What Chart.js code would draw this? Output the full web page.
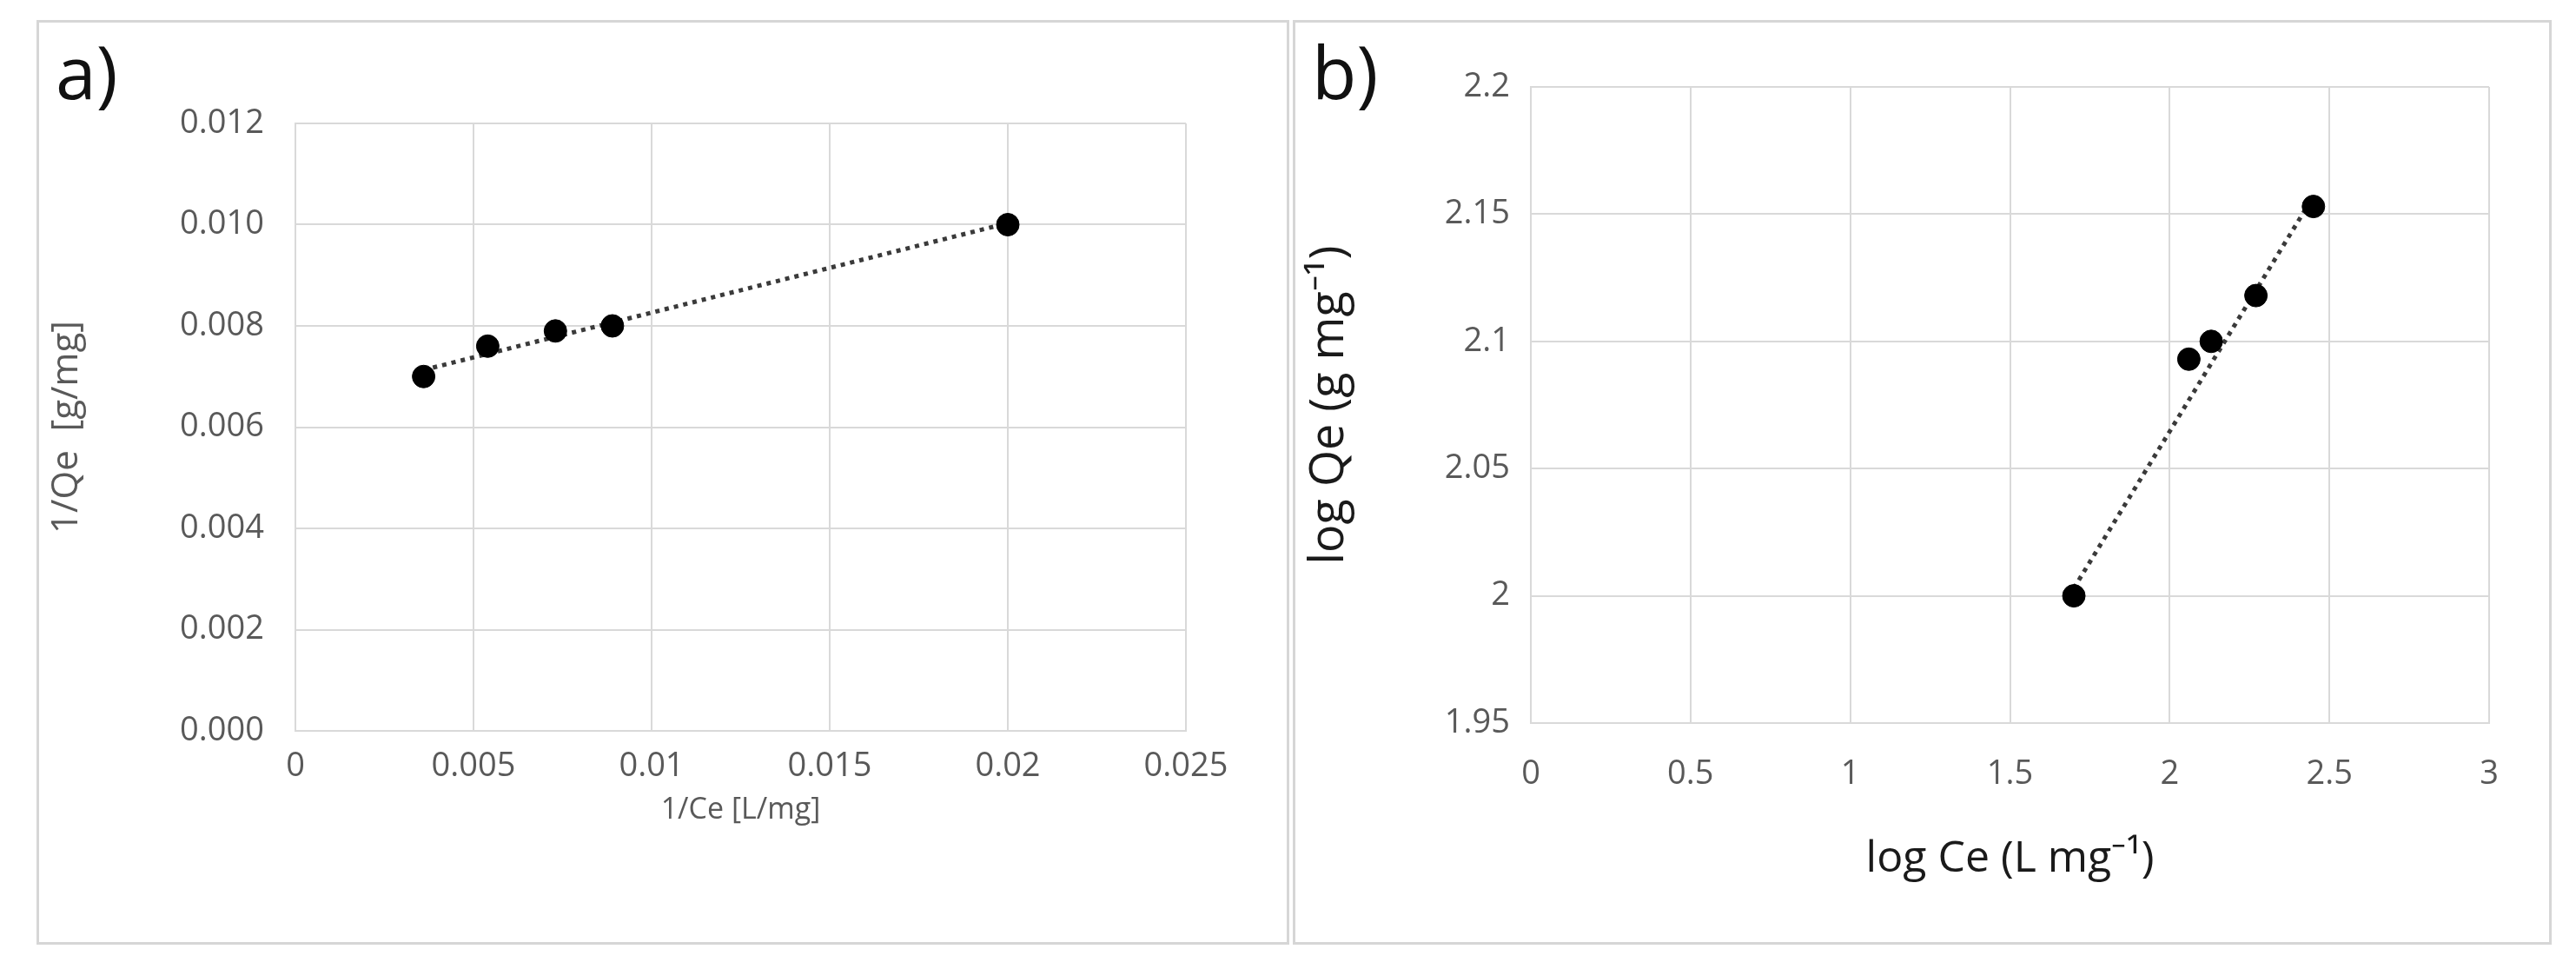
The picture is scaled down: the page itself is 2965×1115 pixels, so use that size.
<!DOCTYPE html>
<html><head><meta charset="utf-8">
<script src="https://cdn.jsdelivr.net/npm/chart.js@4"></script>
<style>
body{margin:0;width:2965px;height:1115px;background:#fff;position:relative;overflow:hidden;font-family:"Open Sans",sans-serif}
.panel{position:absolute;border:3px solid #d6d6d6;box-sizing:border-box}
canvas{position:absolute}
.lab{position:absolute;font-size:84px;color:#111;line-height:1}
</style></head><body>
<div class="panel" style="left:42px;top:23px;width:1442px;height:1064px"></div>
<div class="panel" style="left:1488px;top:23px;width:1449px;height:1064px"></div>
<div style="position:absolute;left:42px;top:23px;width:1442px;height:1064px"><canvas id="ca"></canvas></div>
<div style="position:absolute;left:1488px;top:23px;width:1449px;height:1064px"><canvas id="cb"></canvas></div>
<div class="lab" style="left:64px;top:40px">a)</div>
<div class="lab" style="left:1510px;top:40px">b)</div>
<script>
const aX=[0.0036,0.0054,0.0073,0.0089,0.0200];
const aY=[0.0070,0.0076,0.0079,0.0080,0.0100];
const aTrendX=[0.0036,0.0200];
const aTrendY=[0.00713,0.01003];
const bX=[1.70,2.06,2.13,2.27,2.45];
const bY=[2.000,2.093,2.100,2.118,2.153];
const bTrendX=[1.70,2.45];
const bTrendY=[2.003,2.157];

function pts(xs,ys){return xs.map((x,i)=>({x:x,y:ys[i]}));}
const grid={color:'#d9d9d9',lineWidth:2,drawTicks:false};
function fmt(v){return String(Number(v.toFixed(4)));}
function make(id,o){
  return new Chart(document.getElementById(id),{
    type:'scatter',
    data:{datasets:[
      {data:pts(o.tx,o.ty),showLine:true,borderColor:'#3a3a3a',borderWidth:5,borderDash:[5,6],pointRadius:0,order:2},
      {data:pts(o.x,o.y),backgroundColor:'#000',borderColor:'#000',pointRadius:13,order:1}
    ]},
    options:{responsive:true,maintainAspectRatio:false,animation:false,
      layout:{padding:{top:o.padTop,right:o.padRight,left:0,bottom:0}},
      plugins:{legend:{display:false},tooltip:{enabled:false}},
      scales:{
        x:{type:'linear',min:o.xmin,max:o.xmax,grid:grid,border:{color:'#d9d9d9',width:2},
          ticks:{stepSize:o.xstep,color:o.tickColor,font:{size:o.tickSize,family:'Open Sans'},padding:o.xTickPad,callback:v=>fmt(v)},
          title:{display:true,text:o.xTitle,color:o.titleColor,font:{size:o.xTitleSize,family:'Open Sans'},padding:{top:o.xTitlePad,bottom:o.xTitlePad}},
          afterFit:s=>{s.height=o.xH;}},
        y:{type:'linear',min:o.ymin,max:o.ymax,grid:grid,border:{color:'#d9d9d9',width:2},
          ticks:{stepSize:o.ystep,color:o.tickColor,font:{size:o.tickSize,family:'Open Sans'},padding:o.yTickPad,callback:o.yfmt},
          title:{display:true,text:o.yTitle,color:o.titleColor,font:{size:o.yTitleSize,family:'Open Sans'},padding:{top:o.yTitlePad,bottom:o.yTitlePad}},
          afterFit:s=>{s.width=o.yW;}}
      }}
  });
}
make('ca',{x:aX,y:aY,tx:aTrendX,ty:aTrendY,xmin:0,xmax:0.025,xstep:0.005,ymin:0,ymax:0.012,ystep:0.002,
  yfmt:v=>v.toFixed(3),padTop:119,padRight:119,xH:246,yW:298,tickColor:'#595959',tickSize:38,xTickPad:18,yTickPad:36,
  xTitle:'1/Ce [L/mg]',yTitle:'1/Qe  [g/mg]',titleColor:'#595959',xTitleSize:34,yTitleSize:42,xTitlePad:134,yTitlePad:10});
make('cb',{x:bX,y:bY,tx:bTrendX,ty:bTrendY,xmin:0,xmax:3,xstep:0.5,ymin:1.95,ymax:2.2,ystep:0.05,
  yfmt:v=>fmt(v),padTop:77,padRight:72,xH:255,yW:274,tickColor:'#595959',tickSize:38,xTickPad:36,yTickPad:24,
  xTitle:'log Ce (L mg\u207B\u00B9)',yTitle:'log Qe (g mg\u207B\u00B9)',titleColor:'#1a1a1a',xTitleSize:50,yTitleSize:54,xTitlePad:68,yTitlePad:10});
</script></body></html>
